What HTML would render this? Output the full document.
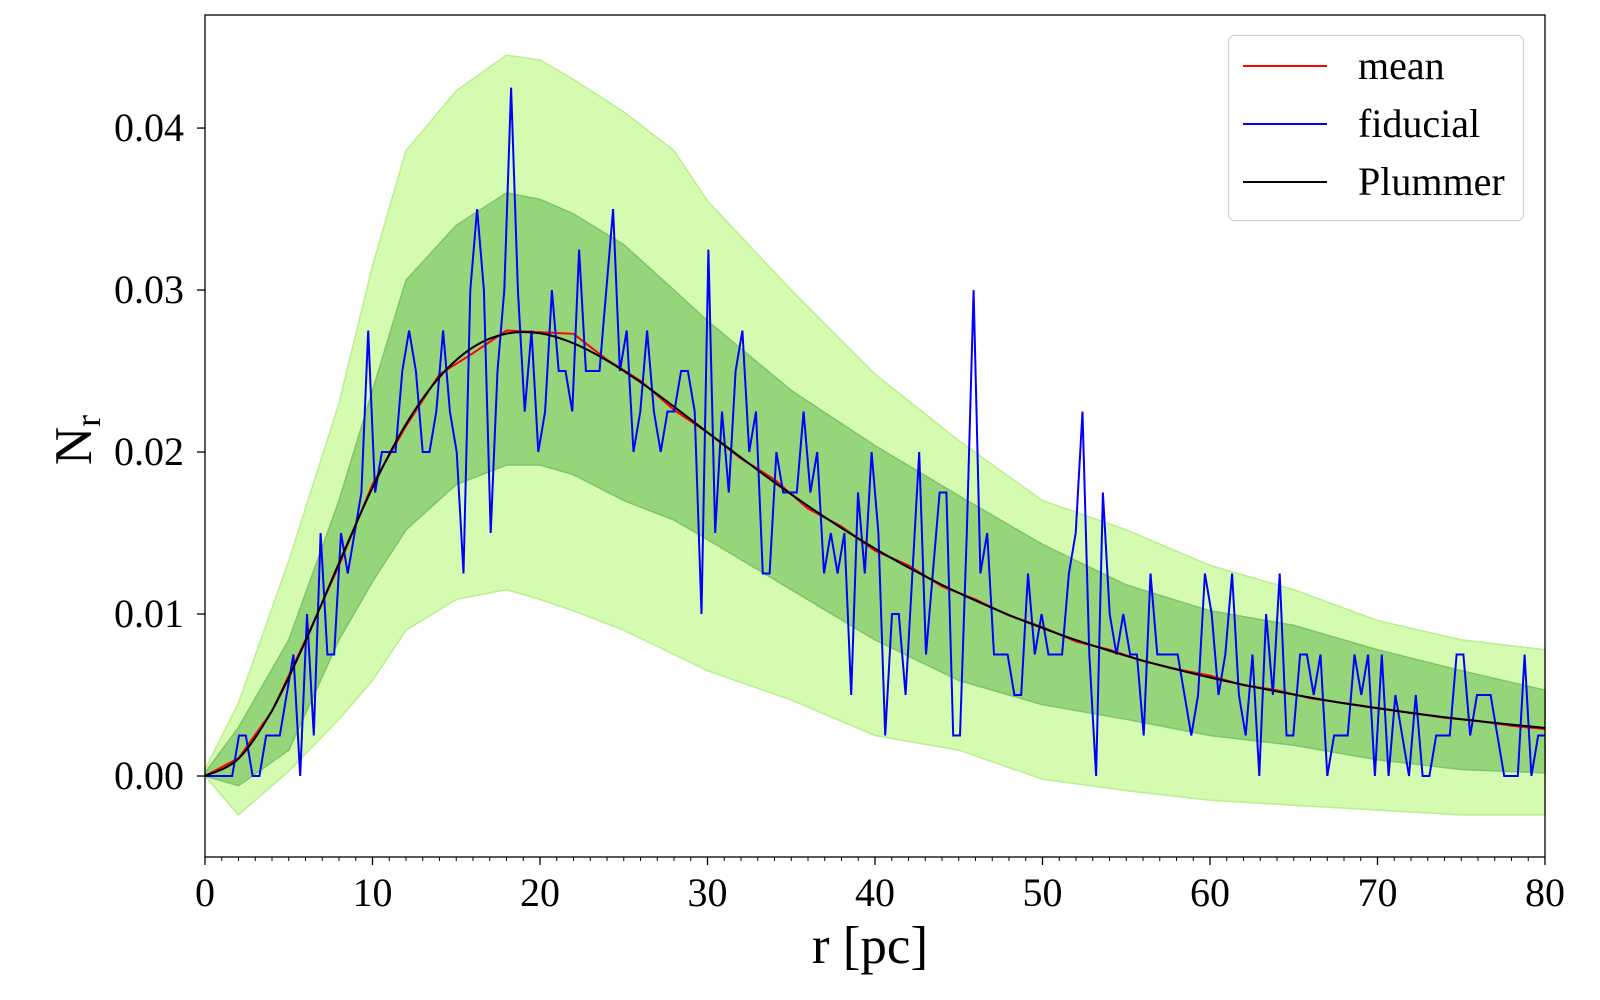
<!DOCTYPE html>
<html><head><meta charset="utf-8"><title>Radial distribution Nr</title>
<style>
html,body{margin:0;padding:0;background:#fff;}
svg{display:block;font-family:"Liberation Serif","DejaVu Serif",serif;}
</style></head>
<body>
<svg id="chart" width="1600" height="1000" viewBox="0 0 1600 1000" xmlns="http://www.w3.org/2000/svg">
<rect x="0" y="0" width="1600" height="1000" fill="#fff"/>
<g id="bands"></g>
<g id="lines"></g>
<g id="axes"></g>
<g id="legend">
  <rect x="1228.5" y="35.5" width="295" height="185" rx="6" fill="#fff" fill-opacity="0.8" stroke="#d0d0d0" stroke-width="1.2"/>
  <g>
    <line x1="1243" y1="66" x2="1327" y2="66" stroke="#ff0000" stroke-width="2"/>
    <text x="1358" y="79" font-size="40">mean</text>
  </g>
  <g>
    <line x1="1243" y1="124" x2="1327" y2="124" stroke="#0000ff" stroke-width="2"/>
    <text x="1358" y="137" font-size="40">fiducial</text>
  </g>
  <g>
    <line x1="1243" y1="182" x2="1327" y2="182" stroke="#000000" stroke-width="2"/>
    <text x="1358" y="195" font-size="40">Plummer</text>
  </g>
</g>
</svg>
<script>
// ---- data ----
const xTicks = [0,10,20,30,40,50,60,70,80];
const xTickLabels = ["0","10","20","30","40","50","60","70","80"];
const yTicks = [0,0.01,0.02,0.03,0.04];
const yTickLabels = ["0.00","0.01","0.02","0.03","0.04"];
// fiducial counts in units of 0.0025, evenly spaced over 0..80 pc
const fiducialUnits = [0,0,0,0,0,1,1,0,0,1,1,1,2,3,0,4,1,6,3,3,6,5,6,7,11,7,8,8,8,10,11,10,8,8,9,11,9,8,5,12,14,12,6,10,12,17,12,9,11,8,
9,12,10,10,9,13,10,10,10,12,14,10,11,8,9,11,9,8,9,9,10,10,9,4,13,6,9,7,10,11,8,9,5,5,8,7,7,7,9,7,8,5,6,5,6,2,7,5,8,
6,1,4,4,2,5,8,3,5,7,7,1,1,6,12,5,6,3,3,3,2,2,5,3,4,3,3,3,5,6,9,3,0,7,4,3,4,3,3,1,5,3,3,3,3,2,1,2,5,
4,2,3,5,2,1,3,0,4,2,5,1,1,3,3,2,3,0,1,1,1,3,2,3,0,3,0,2,1,0,2,0,0,1,1,1,3,3,1,2,2,2,1,0,0,0,3,0,1,1];
const fiducialUnit = 0.0025;
// Plummer & mean, sampled every 2 pc
const curveR = [0,2,4,6,8,10,12,14,16,18,20,22,24,26,28,30,32,34,36,38,40,42,44,46,48,50,52,54,56,58,60,62,64,66,68,70,72,74,76,78,80];
const plummerVals = [0,0.00107,0.00404,0.00833,0.01315,0.0178,0.02172,0.02463,0.02647,0.02731,0.02733,0.02671,0.02565,0.02431,0.0228,0.02121,0.01966,0.01812,0.01667,0.01531,0.01404,0.01287,0.0118,0.01083,0.00994,0.00913,0.00839,0.00773,0.00712,0.00658,0.00608,0.00563,0.00522,0.00484,0.00449,0.00418,0.00389,0.00363,0.00339,0.00317,0.00297];
const meanVals = [0,0.0011,0.0040,0.0084,0.0130,0.0180,0.0216,0.0248,0.0261,0.0275,0.0274,0.0273,0.0257,0.0244,0.0226,0.0212,0.0196,0.0183,0.0165,0.0154,0.0139,0.0130,0.0117,0.0109,0.0099,0.0092,0.0083,0.0078,0.0071,0.0066,0.0062,0.0056,0.0053,0.0048,0.0045,0.0042,0.0039,0.0036,0.0034,0.0031,0.0029];
// bands sampled at these radii
const bandR = [0,2,5,8,10,12,15,18,20,22,25,28,30,35,40,45,50,55,60,65,70,75,80];
const outerUpper = [0.0004,0.0045,0.0133,0.023,0.0315,0.0386,0.0423,0.0445,0.0442,0.043,0.041,0.0386,0.0355,0.030,0.0248,0.0207,0.017,0.0152,0.013,0.0115,0.0096,0.0084,0.0078];
const innerUpper = [0.0002,0.0030,0.0084,0.017,0.0238,0.0306,0.034,0.036,0.0356,0.0347,0.0328,0.030,0.0281,0.0238,0.0204,0.0173,0.0143,0.0118,0.0102,0.0093,0.0078,0.0065,0.0053];
const innerLower = [0,-0.0006,0.0016,0.0084,0.012,0.0152,0.018,0.0192,0.0192,0.0186,0.017,0.0158,0.0146,0.0115,0.0084,0.0059,0.0044,0.0035,0.0025,0.0019,0.001,0.0004,0.0002];
const outerLower = [0,-0.0024,0.0003,0.0035,0.0059,0.009,0.0109,0.0115,0.0109,0.0102,0.009,0.0075,0.0065,0.0047,0.0025,0.0016,-0.0002,-0.0009,-0.0015,-0.0018,-0.0021,-0.0024,-0.0024];

// ---- axes functions ----
const L=205,R=1545,T=15,B=857;
const xMin=0,xMax=80,yMin=-0.005,yMax=0.04698;
const X=v=>L+(v-xMin)/(xMax-xMin)*(R-L);
const Y=v=>B-(v-yMin)/(yMax-yMin)*(B-T);
const NS="http://www.w3.org/2000/svg";
function mk(tag,attrs,parent){const e=document.createElementNS(NS,tag);for(const k in attrs)e.setAttribute(k,attrs[k]);parent.appendChild(e);return e;}
function pts(xs,ys){return xs.map((x,i)=>X(x).toFixed(1)+","+Y(ys[i]).toFixed(1)).join(" ");}

const bands=document.getElementById('bands');
const outerPoly=mk('polygon',{points:pts(bandR,outerUpper)+" "+pts(bandR.slice().reverse(),outerLower.slice().reverse()),fill:'#d5fbb0',stroke:'#b9f08f','stroke-width':1.5},bands);


const innerPoly=mk('polygon',{points:pts(bandR,innerUpper)+" "+pts(bandR.slice().reverse(),innerLower.slice().reverse()),fill:'#95d67b',stroke:'#7fc469','stroke-width':1.5},bands);



const lines=document.getElementById('lines');
const n=fiducialUnits.length;
const fidX=fiducialUnits.map((_,i)=>i*80/(n-1));
const fidY=fiducialUnits.map(u=>u*fiducialUnit);
const meanLine=mk('polyline',{points:pts(curveR,meanVals),fill:'none',stroke:'#ff0000','stroke-width':2},lines);


const fidLine=mk('polyline',{points:pts(fidX,fidY),fill:'none',stroke:'#0000ff','stroke-width':2,'stroke-linejoin':'miter'},lines);


(function(){
  const P=curveR.map((r,i)=>[X(r),Y(plummerVals[i])]);
  let d="M"+P[0][0]+","+P[0][1];
  for(let i=0;i<P.length-1;i++){
    const p0=P[Math.max(0,i-1)],p1=P[i],p2=P[i+1],p3=P[Math.min(P.length-1,i+2)];
    const c1=[p1[0]+(p2[0]-p0[0])/6,p1[1]+(p2[1]-p0[1])/6];
    const c2=[p2[0]-(p3[0]-p1[0])/6,p2[1]-(p3[1]-p1[1])/6];
    d+=" C"+c1.join(",")+" "+c2.join(",")+" "+p2.join(",");
  }
  const pl=mk('path',{d:d,fill:'none',stroke:'#000','stroke-width':2},lines);
  
  
})();

const axes=document.getElementById('axes');
const frame=mk('rect',{x:L,y:T,width:R-L,height:B-T,fill:'none',stroke:'#000','stroke-width':1.3},axes);


for(let m=0;m<=80;m++){
  if(m%10===0)continue;
  const t=mk('line',{x1:X(m),x2:X(m),y1:B,y2:B+4,stroke:'#000','stroke-width':1},axes);
  
  
}
xTicks.forEach((v,i)=>{
  const t=mk('line',{x1:X(v),x2:X(v),y1:B,y2:B+8,stroke:'#000','stroke-width':1.3},axes);
  
  
  const tx=mk('text',{x:X(v),y:B+49,'font-size':40,'text-anchor':'middle'},axes);
  tx.textContent=xTickLabels[i];
  
  
});
yTicks.forEach((v,i)=>{
  const t=mk('line',{x1:L-8,x2:L,y1:Y(v),y2:Y(v),stroke:'#000','stroke-width':1.3},axes);
  
  
  const tx=mk('text',{x:L-21,y:Y(v)+13,'font-size':40,'text-anchor':'end'},axes);
  tx.textContent=yTickLabels[i];
  
  
});
const xt=mk('text',{x:870,y:963,'font-size':53,'text-anchor':'middle'},axes);
xt.textContent='r [pc]';


const yt=mk('text',{transform:'translate(91,440) rotate(-90)','font-size':53,'text-anchor':'middle'},axes);


const t1=document.createElementNS(NS,'tspan');t1.textContent='N';yt.appendChild(t1);
const t2=document.createElementNS(NS,'tspan');t2.setAttribute('font-size','36');t2.setAttribute('dy','9');t2.textContent='r';yt.appendChild(t2);
</script>
</body></html>
